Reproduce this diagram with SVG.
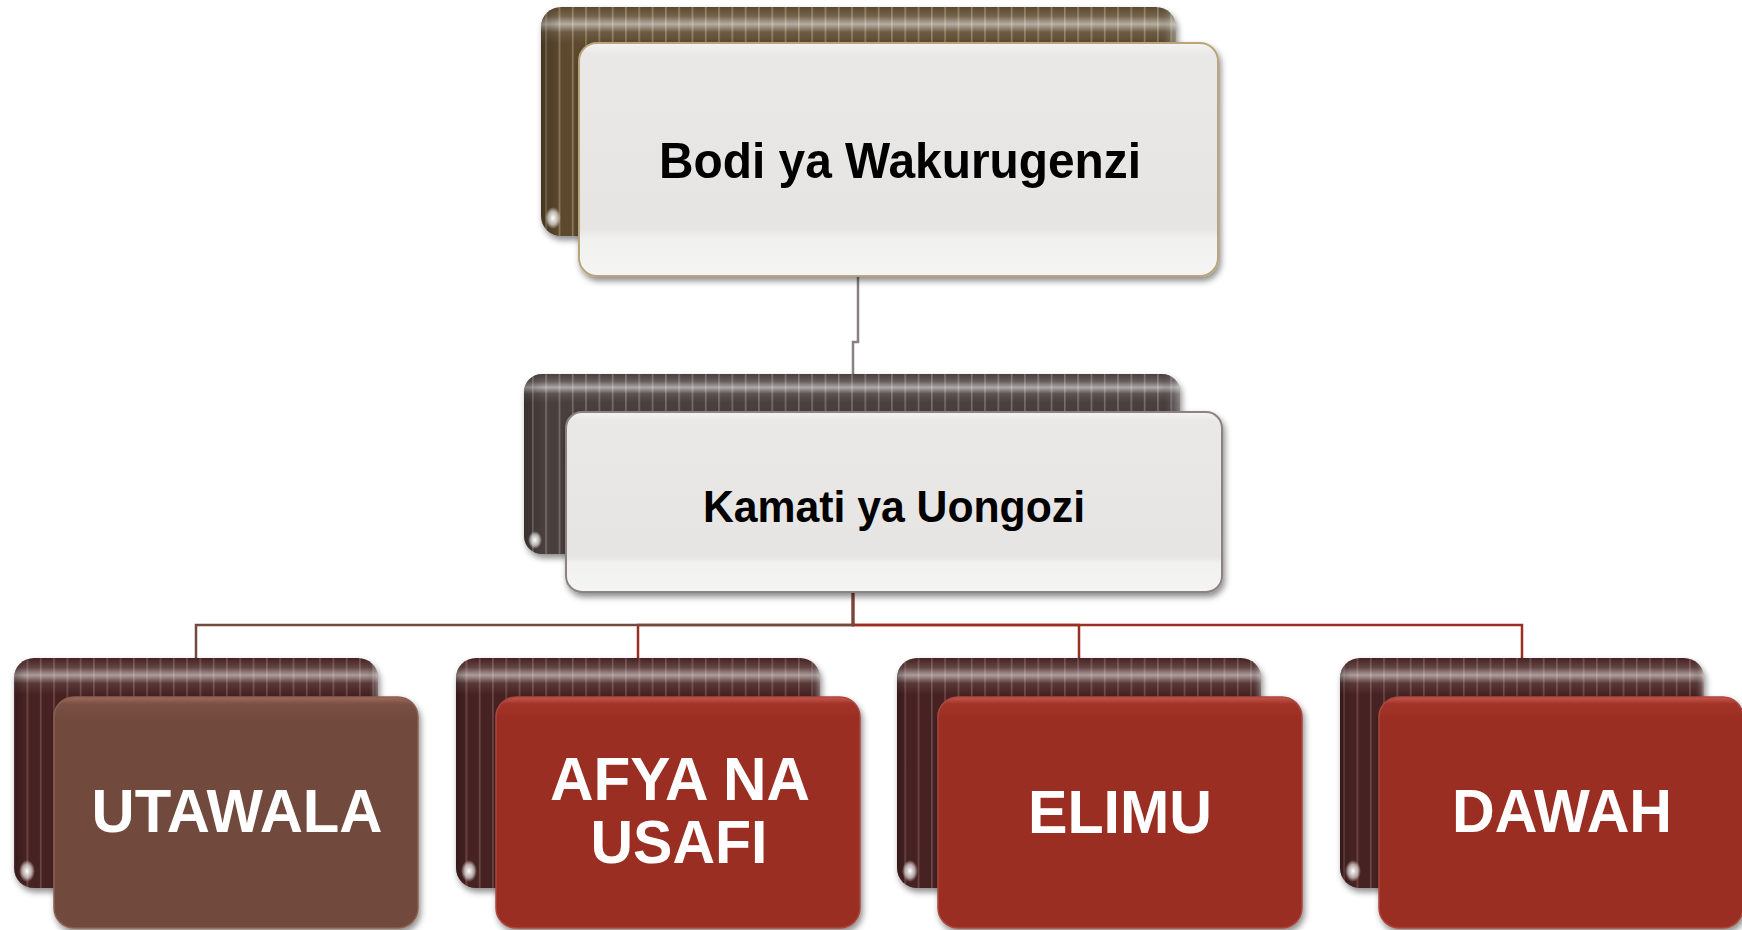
<svg xmlns="http://www.w3.org/2000/svg" width="1742" height="930" viewBox="0 0 1742 930">
<defs>
<filter id="sh" x="-10%" y="-10%" width="125%" height="130%">
<feDropShadow dx="2" dy="4" stdDeviation="3" flood-color="#000" flood-opacity="0.45"/>
</filter>
<pattern id="stOlive" width="13.3" height="20" patternUnits="userSpaceOnUse"><rect width="13.3" height="20" fill="#5c4a2d"/><rect x="0" width="1.6" height="20" fill="#8c7b5c"/></pattern>
<pattern id="stGray" width="13.3" height="20" patternUnits="userSpaceOnUse"><rect width="13.3" height="20" fill="#4a3f3e"/><rect x="0" width="1.6" height="20" fill="#786d6c"/></pattern>
<pattern id="stMaroon" width="13.3" height="20" patternUnits="userSpaceOnUse"><rect width="13.3" height="20" fill="#472323"/><rect x="0" width="1.6" height="20" fill="#6f4747"/></pattern>
<linearGradient id="gloss" x1="0" y1="0" x2="0" y2="1">
<stop offset="0" stop-color="#fff" stop-opacity="0"/>
<stop offset="0.04" stop-color="#fff" stop-opacity="0.15"/>
<stop offset="0.075" stop-color="#fff" stop-opacity="0.55"/>
<stop offset="0.11" stop-color="#fff" stop-opacity="0.1"/>
<stop offset="0.16" stop-color="#fff" stop-opacity="0"/>
<stop offset="1" stop-color="#fff" stop-opacity="0"/>
</linearGradient>
<linearGradient id="sideShade" x1="0" y1="0" x2="1" y2="0">
<stop offset="0" stop-color="#000" stop-opacity="0.25"/>
<stop offset="0.03" stop-color="#000" stop-opacity="0"/>
<stop offset="0.97" stop-color="#000" stop-opacity="0"/>
<stop offset="1" stop-color="#fff" stop-opacity="0.35"/>
</linearGradient>
<linearGradient id="lightFill" x1="0" y1="0" x2="0" y2="1">
<stop offset="0" stop-color="#f4f4f3"/>
<stop offset="0.05" stop-color="#e9e8e6"/>
<stop offset="0.8" stop-color="#e6e5e3"/>
<stop offset="0.84" stop-color="#f1f1f0"/>
<stop offset="1" stop-color="#f4f4f3"/>
</linearGradient>
<linearGradient id="redFill" x1="0" y1="0" x2="0" y2="1">
<stop offset="0" stop-color="#c9574a"/>
<stop offset="0.03" stop-color="#a2342a"/>
<stop offset="0.1" stop-color="#9b2d21"/>
<stop offset="1" stop-color="#9b2d21"/>
</linearGradient>
<linearGradient id="brownFill" x1="0" y1="0" x2="0" y2="1">
<stop offset="0" stop-color="#a06b5d"/>
<stop offset="0.03" stop-color="#7a5144"/>
<stop offset="0.1" stop-color="#714a3d"/>
<stop offset="1" stop-color="#714a3d"/>
</linearGradient>
<radialGradient id="spot">
<stop offset="0" stop-color="#fff" stop-opacity="1"/>
<stop offset="0.6" stop-color="#fff" stop-opacity="0.6"/>
<stop offset="1" stop-color="#fff" stop-opacity="0"/>
</radialGradient>
</defs>
<style>
.back{filter:url(#sh);}
.front{filter:url(#sh);}
.ov{fill:url(#gloss);}
.sd{fill:url(#sideShade);}
.t1{font-family:"Liberation Sans",Arial,sans-serif;font-weight:bold;fill:#000;text-anchor:middle;}
.t2{font-family:"Liberation Sans",Arial,sans-serif;font-weight:bold;fill:#fff;font-size:62px;text-anchor:middle;}
.conn{fill:none;stroke-width:2.5;}
</style>

<g id="connectors">
<path class="conn" d="M858,276 V342 H853 V375" stroke="#8a7f82" stroke-width="2"/>
<path class="conn" d="M853,592 V625 H638 V658" stroke="#9b2d21"/>
<path class="conn" d="M853,592 V625 H1079 V658" stroke="#9b2d21"/>
<path class="conn" d="M853,592 V625 H1522 V658" stroke="#9b2d21"/>
<path class="conn" d="M853,592 V625 H196 V658" stroke="#714a3d"/>
</g>

<g id="node-bodi">
<rect class="back" x="541" y="7" width="635" height="229" rx="20" fill="url(#stOlive)"/>
<rect x="541" y="7" width="635" height="229" rx="20" class="ov"/>
<rect x="541" y="7" width="635" height="229" rx="20" class="sd"/>
<ellipse cx="553" cy="218" rx="8" ry="11" fill="url(#spot)"/>
<rect class="front" x="579" y="43" width="639" height="233" rx="18" fill="url(#lightFill)" stroke="#b9a57c" stroke-width="2"/>
<text class="t1" x="900" y="178" font-size="50" textLength="482" lengthAdjust="spacingAndGlyphs">Bodi ya Wakurugenzi</text>
</g>

<g id="node-kamati">
<rect class="back" x="524" y="374" width="656" height="180" rx="18" fill="url(#stGray)"/>
<rect x="524" y="374" width="656" height="180" rx="18" class="ov"/>
<rect x="524" y="374" width="656" height="180" rx="18" class="sd"/>
<ellipse cx="535" cy="540" rx="7" ry="9" fill="url(#spot)"/>
<rect class="front" x="566" y="412" width="656" height="180" rx="16" fill="url(#lightFill)" stroke="#8c8283" stroke-width="2"/>
<text class="t1" x="894" y="522" font-size="45" textLength="382" lengthAdjust="spacingAndGlyphs">Kamati ya Uongozi</text>
</g>

<g id="node-utawala">
<rect class="back" x="14" y="658" width="364" height="230" rx="20" fill="url(#stMaroon)"/>
<rect x="14" y="658" width="364" height="230" rx="20" class="ov"/>
<rect x="14" y="658" width="364" height="230" rx="20" class="sd"/>
<ellipse cx="27" cy="871" rx="8" ry="11" fill="url(#spot)"/>
<rect class="front" x="54" y="697" width="364" height="231" rx="20" fill="url(#brownFill)" stroke="#8a6052" stroke-width="1.5"/>
<text class="t2" x="237" y="832" textLength="291" lengthAdjust="spacingAndGlyphs">UTAWALA</text>
</g>

<g id="node-afya">
<rect class="back" x="456" y="658" width="364" height="230" rx="20" fill="url(#stMaroon)"/>
<rect x="456" y="658" width="364" height="230" rx="20" class="ov"/>
<rect x="456" y="658" width="364" height="230" rx="20" class="sd"/>
<ellipse cx="469" cy="871" rx="8" ry="11" fill="url(#spot)"/>
<rect class="front" x="496" y="697" width="364" height="231" rx="20" fill="url(#redFill)" stroke="#a8483d" stroke-width="1.5"/>
<text class="t2" x="680" y="800" textLength="260" lengthAdjust="spacingAndGlyphs">AFYA NA</text>
<text class="t2" x="679" y="863" textLength="177" lengthAdjust="spacingAndGlyphs">USAFI</text>
</g>

<g id="node-elimu">
<rect class="back" x="897" y="658" width="364" height="230" rx="20" fill="url(#stMaroon)"/>
<rect x="897" y="658" width="364" height="230" rx="20" class="ov"/>
<rect x="897" y="658" width="364" height="230" rx="20" class="sd"/>
<ellipse cx="910" cy="871" rx="8" ry="11" fill="url(#spot)"/>
<rect class="front" x="938" y="697" width="364" height="231" rx="20" fill="url(#redFill)" stroke="#a8483d" stroke-width="1.5"/>
<text class="t2" x="1120" y="833" textLength="184" lengthAdjust="spacingAndGlyphs">ELIMU</text>
</g>

<g id="node-dawah">
<rect class="back" x="1340" y="658" width="364" height="230" rx="20" fill="url(#stMaroon)"/>
<rect x="1340" y="658" width="364" height="230" rx="20" class="ov"/>
<rect x="1340" y="658" width="364" height="230" rx="20" class="sd"/>
<ellipse cx="1353" cy="871" rx="8" ry="11" fill="url(#spot)"/>
<rect class="front" x="1379" y="697" width="364" height="231" rx="20" fill="url(#redFill)" stroke="#a8483d" stroke-width="1.5"/>
<text class="t2" x="1562" y="832" textLength="220" lengthAdjust="spacingAndGlyphs">DAWAH</text>
</g>
</svg>
